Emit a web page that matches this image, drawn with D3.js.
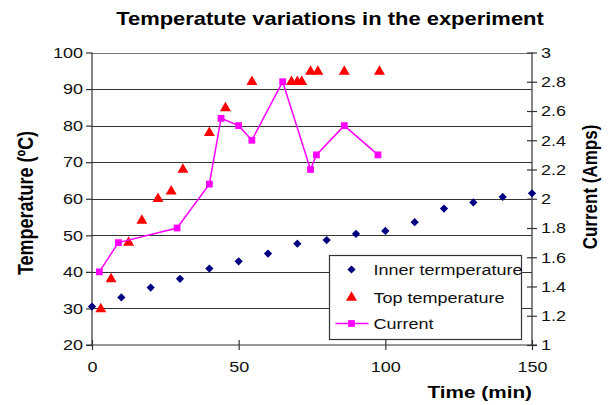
<!DOCTYPE html>
<html>
<head>
<meta charset="utf-8">
<script src="https://cdn.jsdelivr.net/npm/d3@7"></script>
<style>
  body { margin: 0; background: #fff; }
  svg { display: block; font-family: "Liberation Sans", Arial, sans-serif; }
</style>
</head>
<body>
<svg id="chart"></svg>
<script>
// inner temperature, every 10 min
const innerTime = [0, 10, 20, 30, 40, 50, 60, 70, 80, 90, 100, 110, 120, 130, 140, 150];
const innerTemp = [30.5, 33, 35.7, 38.1, 40.9, 42.9, 45, 47.7, 48.7, 50.4, 51.2, 53.6, 57.3, 59, 60.5, 61.5];

const topTime = [3, 6.5, 12.5, 17, 22.5, 27, 31, 40, 45.5, 54.5, 68, 70, 71.5, 74.5, 77, 86, 98];
const topTemp = [29.8, 38, 48, 54, 60, 62, 68, 78, 84.8, 92, 92, 92, 92, 94.8, 94.8, 94.8, 94.8];

const currentTime = [2.5, 9, 29, 40, 44, 50, 54.5, 65, 74.5, 76.5, 86, 97.5];
const currentAmps = [1.5, 1.7, 1.8, 2.1, 2.55, 2.5, 2.4, 2.8, 2.2, 2.3, 2.5, 2.3];

const timeTicks = [0, 50, 100, 150];
const tempTicks = [20, 30, 40, 50, 60, 70, 80, 90, 100];
const ampTicks = [1, 1.2, 1.4, 1.6, 1.8, 2, 2.2, 2.4, 2.6, 2.8, 3];

const width = 609, height = 405;
const svg = d3.select("#chart").attr("width", width).attr("height", height);

const x = d3.scaleLinear().domain([0, 150]).range([92, 532]);
const yT = d3.scaleLinear().domain([20, 100]).range([345, 52.5]);
const yI = d3.scaleLinear().domain([1, 3]).range([345, 52.5]);

const axisColor = "#333";
const stretchX = 1.2; // the original text is drawn a bit wide

// move x/y into a transform so the glyphs can be widened around their anchor
function widen(sel, s) {
    sel.each(function () {
        const t = d3.select(this);
        const tx = +t.attr("x") || 0, ty = +t.attr("y") || 0;
        t.attr("x", 0).attr("y", 0).attr("transform", `translate(${tx},${ty}) scale(${s},1)`);
    });
}

// gridlines
svg.append("g")
    .selectAll("line")
    .data(tempTicks.slice(1))
    .join("line")
    .attr("x1", x(0)).attr("x2", x(150))
    .attr("y1", d => Math.round(yT(d)) + 0.5)
    .attr("y2", d => Math.round(yT(d)) + 0.5)
    .attr("stroke", d => d === 100 ? "#777" : "#333")
    .attr("stroke-width", 1.2);

// left axis
const leftAxis = svg.append("g")
    .attr("transform", `translate(${x(0)},0)`)
    .call(d3.axisLeft(yT).tickValues(tempTicks).tickSize(6).tickPadding(3));
leftAxis.select(".domain").remove();
leftAxis.append("line").attr("y1", yT(100)).attr("y2", yT(20)).attr("stroke", axisColor).attr("stroke-width", 1.2);

// right axis (ticks cross the line)
const rightAxis = svg.append("g")
    .attr("transform", `translate(${x(150)},0)`)
    .call(d3.axisRight(yI).tickValues(ampTicks).tickFormat(d3.format("~g")).tickSize(5).tickPadding(4));
rightAxis.select(".domain").remove();
rightAxis.selectAll(".tick line").attr("x1", -5);
rightAxis.append("line").attr("y1", yI(3)).attr("y2", yI(1)).attr("stroke", axisColor).attr("stroke-width", 1.2);

// bottom axis
const bottomAxis = svg.append("g")
    .attr("transform", `translate(0,${yT(20)})`)
    .call(d3.axisBottom(x).tickValues(timeTicks).tickSize(5).tickPadding(11));
bottomAxis.select(".domain").remove();
bottomAxis.selectAll(".tick line").attr("y1", -5);
bottomAxis.append("line").attr("x1", x(0) - 6).attr("x2", x(150) + 5).attr("stroke", axisColor).attr("stroke-width", 1.2);

[leftAxis, rightAxis, bottomAxis].forEach(a => {
    a.selectAll(".tick line").attr("stroke", axisColor).attr("stroke-width", 1.2);
    a.selectAll(".tick text").attr("fill", "#111").style("font-size", "15px").style("font-family", "Liberation Sans, Arial, sans-serif");
    widen(a.selectAll(".tick text"), stretchX);
});

// series
const diamond = d3.symbol().type(d3.symbolSquare).size(34);
const triangle = d3.symbol().type(d3.symbolTriangle).size(52);
const square = d3.symbol().type(d3.symbolSquare).size(46);

svg.append("g")
    .selectAll("path")
    .data(innerTime.map((t, i) => [t, innerTemp[i]]))
    .join("path")
    .attr("d", diamond)
    .attr("transform", d => `translate(${x(d[0])},${yT(d[1])}) rotate(45)`)
    .attr("fill", "#000080");

svg.append("g")
    .selectAll("path")
    .data(topTime.map((t, i) => [t, topTemp[i]]))
    .join("path")
    .attr("d", triangle)
    .attr("transform", d => `translate(${x(d[0])},${yT(d[1])})`)
    .attr("fill", "#ff0000");

const currentData = currentTime.map((t, i) => [t, currentAmps[i]]);
svg.append("path")
    .datum(currentData)
    .attr("d", d3.line().x(d => x(d[0])).y(d => yI(d[1])))
    .attr("fill", "none")
    .attr("stroke", "#ff00ff")
    .attr("stroke-width", 1.5);

svg.append("g")
    .selectAll("path")
    .data(currentData)
    .join("path")
    .attr("d", square)
    .attr("transform", d => `translate(${x(d[0])},${yI(d[1])})`)
    .attr("fill", "#ff00ff");

// legend
const legend = svg.append("g").attr("transform", "translate(329.5,255.5)");
legend.append("rect")
    .attr("width", 192).attr("height", 84)
    .attr("fill", "#fff").attr("stroke", "#333").attr("stroke-width", 1.2);

const legendRows = ["Inner termperature", "Top temperature", "Current"];
const rowY = [14, 42, 68];
legendRows.forEach((label, i) => {
    const row = legend.append("g").attr("transform", `translate(0,${rowY[i]})`);
    if (i === 0) {
        row.append("path").attr("d", diamond).attr("transform", "translate(22,0) rotate(45)").attr("fill", "#000080");
    } else if (i === 1) {
        row.append("path").attr("d", triangle).attr("transform", "translate(22,0)").attr("fill", "#ff0000");
    } else {
        row.append("line").attr("x1", 6).attr("x2", 39).attr("stroke", "#ff00ff").attr("stroke-width", 1.5);
        row.append("path").attr("d", square).attr("transform", "translate(22,0)").attr("fill", "#ff00ff");
    }
    row.append("text")
        .attr("x", 44).attr("y", 0).attr("dy", "0.35em")
        .style("font-size", "15px").attr("fill", "#111")
        .text(label)
        .call(widen, stretchX);
});

// titles
svg.append("text")
    .attr("x", 330).attr("y", 25)
    .attr("text-anchor", "middle")
    .style("font-size", "18px").style("font-weight", "bold")
    .text("Temperatute variations in the experiment")
    .call(widen, 1.22);

svg.append("text")
    .attr("transform", "translate(33,203) rotate(-90) scale(1,1.2)")
    .attr("text-anchor", "middle")
    .style("font-size", "18px").style("font-weight", "bold")
    .text("Temperature (ºC)");

svg.append("text")
    .attr("transform", "translate(597,187) rotate(-90) scale(1,1.2)")
    .attr("text-anchor", "middle")
    .style("font-size", "17px").style("font-weight", "bold")
    .text("Current (Amps)");

svg.append("text")
    .attr("x", 532).attr("y", 398)
    .attr("text-anchor", "end")
    .style("font-size", "17px").style("font-weight", "bold")
    .text("Time (min)")
    .call(widen, 1.22);
</script>
</body>
</html>
